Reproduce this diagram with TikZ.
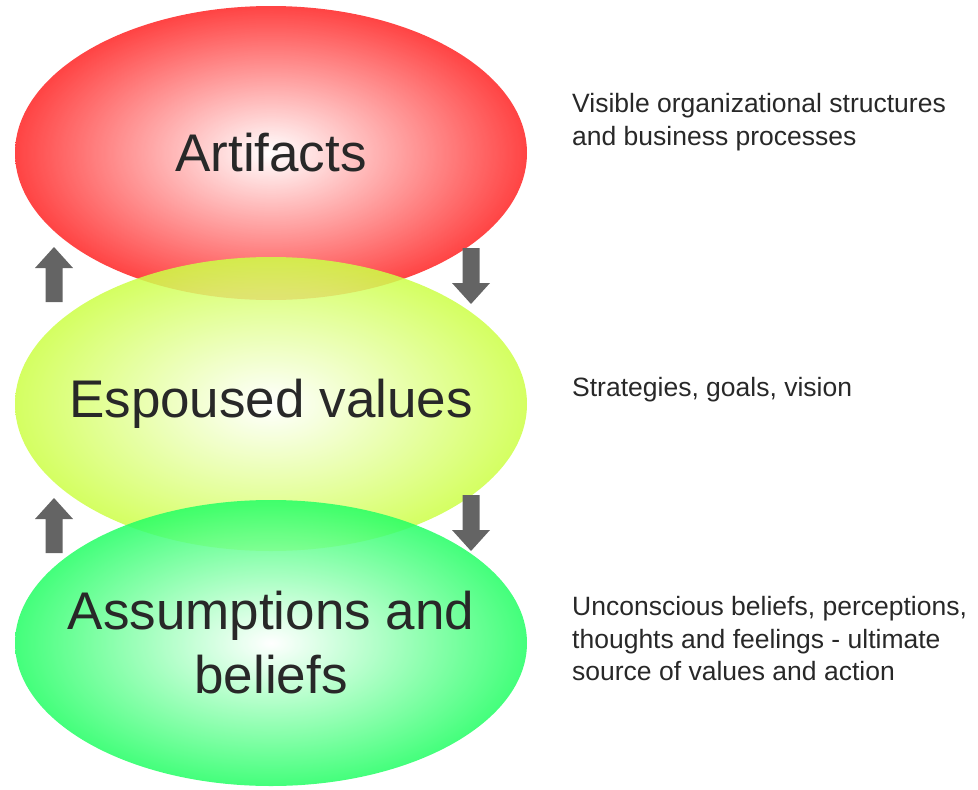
\documentclass[tikz,border=0pt]{standalone}
\usepackage{fontspec}
\setmainfont{Liberation Sans}
\usetikzlibrary{shapes.geometric}
\definecolor{redrim}{RGB}{255,35,35}
\definecolor{yellowrim}{RGB}{205,255,70}
\definecolor{greenrim}{RGB}{35,255,100}
\definecolor{arrowgray}{RGB}{100,100,100}
\definecolor{textgray}{RGB}{40,40,40}
\begin{document}
\begin{tikzpicture}[x=1pt, y=-1pt,
  layer node/.style={ellipse, minimum width=512pt, minimum height=294pt, inner sep=0pt,
    shading=radial, inner color=white, fill opacity=0.85},
  layer text/.style={inner sep=0pt, align=center, text=textgray,
    font=\fontsize{53}{64}\selectfont},
  note node/.style={anchor=west, inner sep=0pt, align=left, text=textgray,
    font=\fontsize{26.5}{32.5}\selectfont},
  block arrow/.style={fill=arrowgray}]
  \useasboundingbox (0,0) rectangle (978,790);

  % the three layers
  \node[layer node, outer color=redrim] (artifacts) at (271,153) {};
  \node[layer text] (artifacts text) at (artifacts.center) {Artifacts};
  \node[layer node, outer color=yellowrim] (values) at (271,404) {};
  \node[layer text] (values text) at (values.center) {Espoused values};
  \node[layer node, outer color=greenrim, minimum height=286pt] (beliefs) at (271,643) {};
  \node[layer text] (beliefs text) at (beliefs.center) {Assumptions and\\beliefs};

  % notes on the right
  \node[note node] (note1) at (572,122) {Visible organizational structures\\and business processes};
  \node[note node] (note2) at (572,390) {Strategies, goals, vision};
  \node[note node] (note3) at (572,639) {Unconscious beliefs, perceptions,\\thoughts and feelings - ultimate\\source of values and action};

  % up arrows
  \fill[block arrow] (54,247) -- ++(19,21) -- ++(-10.5,0) -- ++(0,34) -- ++(-17,0) -- ++(0,-34) -- ++(-10.5,0) -- cycle;
  \fill[block arrow] (54,498) -- ++(19,21) -- ++(-10.5,0) -- ++(0,34) -- ++(-17,0) -- ++(0,-34) -- ++(-10.5,0) -- cycle;
  % down arrows
  \fill[block arrow] (471,304) -- ++(19,-21) -- ++(-10.5,0) -- ++(0,-35) -- ++(-17,0) -- ++(0,35) -- ++(-10.5,0) -- cycle;
  \fill[block arrow] (471,551) -- ++(19,-21) -- ++(-10.5,0) -- ++(0,-35) -- ++(-17,0) -- ++(0,35) -- ++(-10.5,0) -- cycle;
\end{tikzpicture}
\end{document}
